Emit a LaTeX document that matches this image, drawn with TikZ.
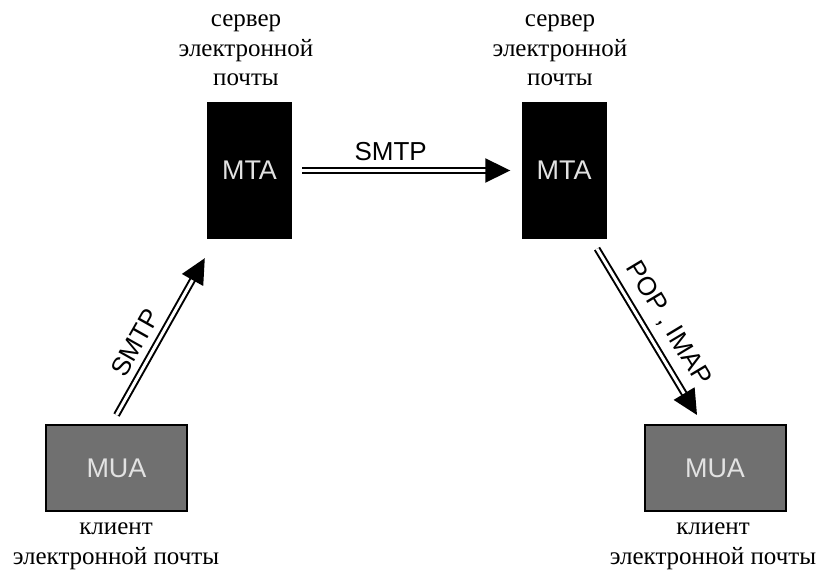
\documentclass[tikz,border=0pt]{standalone}
\usepackage{fontspec}
\setmainfont{Liberation Serif}
\setsansfont{Liberation Sans}
\usepackage{xcolor}
\definecolor{Col1}{RGB}{112,112,112}
\definecolor{Col2}{RGB}{226,226,226}
\usepackage{tikz}
\usetikzlibrary{arrows.meta}
\tikzstyle{NodeMTA}=[fill=black,minimum width=85pt,minimum height=137pt,
inner sep=0pt,text=Col2,font=\sffamily\fontsize{27}{30}\selectfont]
\tikzstyle{NodeMUA}=[draw=black,line width=2pt,fill=Col1,minimum width=141pt,
minimum height=86pt,inner sep=0pt,text=Col2,font=\sffamily\fontsize{27}{30}\selectfont]
\tikzstyle{NodeTxt}=[align=center,inner sep=0pt,font=\fontsize{25}{29.5}\selectfont]
\tikzstyle{NodeST}=[inner sep=0pt,font=\sffamily\fontsize{26}{30}\selectfont]
\tikzstyle{Edge}=[draw=black,line width=2pt,double=white,double distance=3pt,
-{Triangle[length=25pt,width=24pt]}]

\begin{document}
\begin{tikzpicture}[x=1pt,y=1pt]
        \useasboundingbox(0,0)rectangle(821,570);
        % servers and clients
        \node[NodeMTA](1)at(249.5,399.5){MTA};
        \node[NodeMTA](2)at(564.00,399.5){MTA};
        \node[NodeMUA](3)at(116.5,102.0){MUA};
        \node[NodeMUA](4)at(715.0,102.0){MUA};
        % captions
        \node[NodeTxt,anchor=north](5)at(246,555){сервер\\электронной\\почты};
        \node[NodeTxt,anchor=north](6)at(560,555){сервер\\электронной\\почты};
        \node[NodeTxt,anchor=north](7)at(116,47){клиент\\электронной почты};
        \node[NodeTxt,anchor=north](8)at(713,47){клиент\\электронной почты};
        % protocols
        \draw[Edge,shorten <=10pt,shorten >=11pt](1)--
            node[NodeST,pos=.43,above=9pt]{SMTP}(2);
        \draw[Edge]([yshift=9]3.north)--
            node[NodeST,sloped,pos=.40,above=9pt]{SMTP}([shift={(-2,-19)}]1.south west);
        \draw[Edge]([shift={(33,-9.5)}]2.south)--
            node[NodeST,sloped,pos=.52,above=10.7pt]{POP , IMAP}([shift={(-18,9)}]4.north);
    \end{tikzpicture}
\end{document}
